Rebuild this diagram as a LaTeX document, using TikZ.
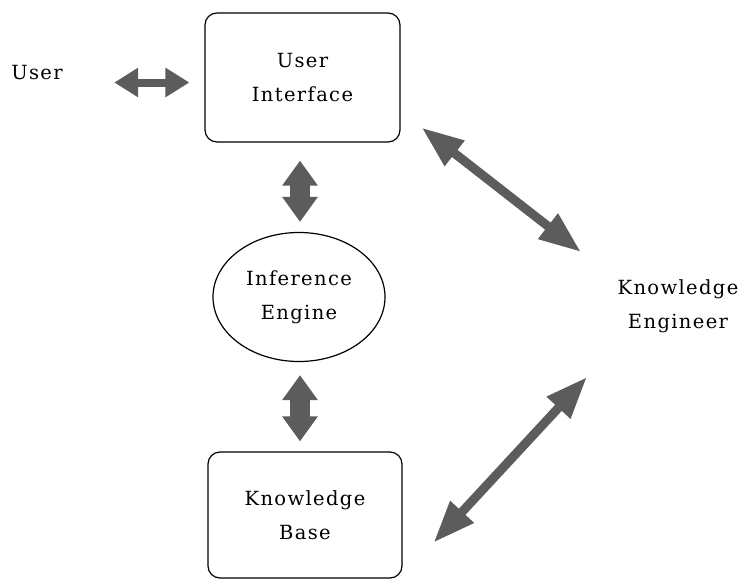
\documentclass[tikz,border=0pt]{standalone}
\usepackage{fontspec}
\setmainfont[LetterSpace=7]{DejaVu Serif}
\usetikzlibrary{shapes.geometric,arrows.meta,positioning}

\tikzset{
    txt/.style={font=\fontsize{19.5}{34}\selectfont, align=center},
    box/.style={draw, line width=1.2pt, rounded corners=12pt, txt},
    fat/.style={line width=20pt, black!64,
        {Triangle[width=34pt,length=25pt]}-{Triangle[width=34pt,length=25pt]}},
    thin/.style={line width=8pt, black!64,
        {Triangle[width=28pt,length=24pt]}-{Triangle[width=28pt,length=24pt]}},
    slim/.style={line width=9pt, black!64,
        {Triangle[width=30pt,length=42pt]}-{Triangle[width=30pt,length=42pt]}}
}

\begin{document}
\begin{tikzpicture}[x=1pt, y=-1pt]

    \useasboundingbox (0,0) rectangle (746,586);

    % the parts
    \node[txt] (user) at (37,73) {User};
    \node[box, minimum width=195pt, minimum height=129pt] (ui) at (302.5,77.5) {User\\Interface};
    \node[ellipse, draw, line width=1.2pt, txt, minimum width=172pt, minimum height=129pt] (ie) at (299,297) {Inference\\Engine};
    \node[box, minimum width=194pt, minimum height=126pt] (kb) at (305,515) {Knowledge\\Base};
    \node[txt] (ke) at (678,306) {Knowledge\\Engineer};

    \coordinate (ke-up) at (581,252);
    \coordinate (ke-down) at (587,377);

    % the arrows
    \draw[thin] ([shift={(48,9.5)}]user.east) -- ([shift={(-15,5)}]ui.west);
    \draw[fat, shorten <=18pt, shorten >=10pt] ([xshift=-2.5pt]ui.south) -- ([xshift=1pt]ie.north);
    \draw[fat, shorten <=13pt, shorten >=10pt] ([xshift=1pt]ie.south) -- ([xshift=-5pt]kb.north);
    \draw[slim] ([shift={(21,-15)}]ui.south east) -- (ke-up);
    \draw[slim] ([shift={(31,-36)}]kb.south east) -- (ke-down);

\end{tikzpicture}
\end{document}
